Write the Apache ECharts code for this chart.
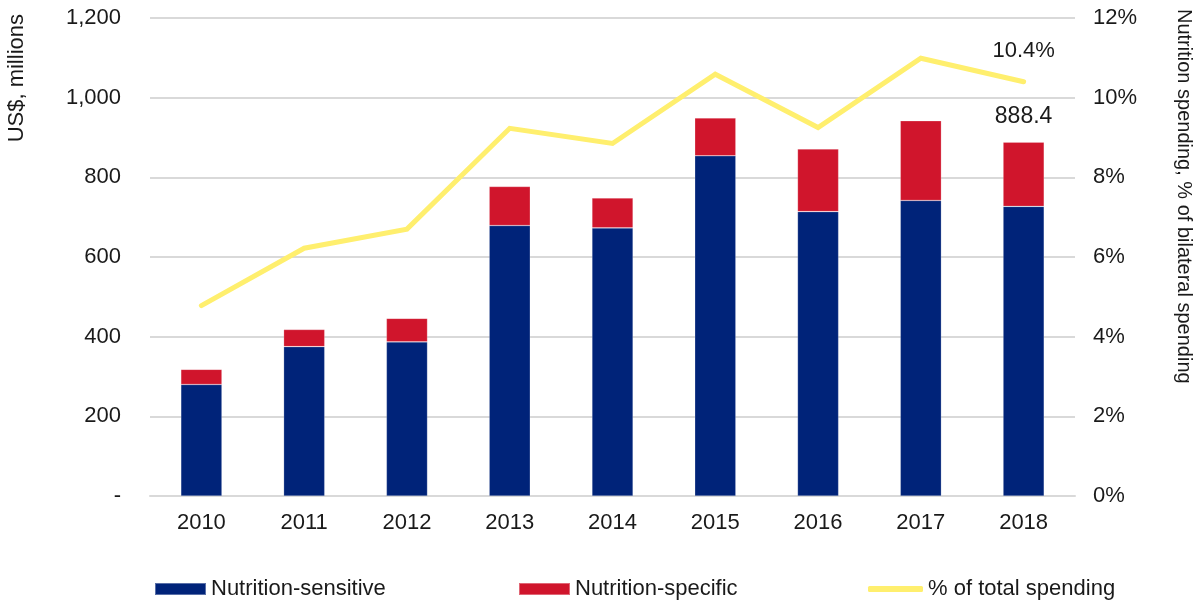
<!DOCTYPE html>
<html>
<head>
<meta charset="utf-8">
<script src="https://cdn.jsdelivr.net/npm/echarts@6/dist/echarts.min.js"></script>
<style>
  html, body { margin: 0; padding: 0; background: #ffffff; }
  #chart { width: 1199px; height: 603px; }
</style>
</head>
<body>
<div id="chart"></div>
<script>
// Nutrition spending by year (US$ millions) and share of bilateral spending (%)
const years = ['2010', '2011', '2012', '2013', '2014', '2015', '2016', '2017', '2018'];
const nutritionSensitive = [280, 375, 387, 679, 673, 854, 714, 742, 727];
const nutritionSpecific = [38, 43, 59, 98, 75, 95, 157, 200, 161.4];
const shareOfTotal = [4.78, 6.22, 6.70, 9.23, 8.85, 10.59, 9.25, 10.99, 10.4];

const leftTicks = { min: 0, max: 1200, step: 200 };
const rightTicks = { min: 0, max: 12, step: 2 };

const FONT = '"Liberation Sans", Arial, sans-serif';
const NAVY = '#002379';
const RED = '#D0152C';
const YELLOW = '#FFEF6E';
const GRID = '#D9D9D9';
const lastIdx = years.length - 1;

const chart = echarts.init(document.getElementById('chart'), null, { renderer: 'canvas' });

const legendText = { fontFamily: FONT, fontSize: 22, color: '#1a1a1a' };

chart.setOption({
  animation: false,
  backgroundColor: '#ffffff',
  textStyle: { fontFamily: FONT, color: '#1a1a1a' },
  grid: { left: 150, right: 124, top: 18, bottom: 107, containLabel: false },
  legend: [
    {
      data: ['Nutrition-sensitive'], left: 154, top: 578, padding: 0,
      itemWidth: 51, itemHeight: 12, icon: 'rect', textStyle: legendText
    },
    {
      data: ['Nutrition-specific'], left: 518, top: 578, padding: 0,
      itemWidth: 51, itemHeight: 12, icon: 'rect', textStyle: legendText
    },
    {
      data: [{ name: '% of total spending', icon: 'roundRect' }], left: 868, top: 578, padding: 0,
      itemWidth: 55, itemHeight: 6, textStyle: legendText
    }
  ],
  xAxis: {
    type: 'category',
    data: years,
    axisLine: { show: true, lineStyle: { color: GRID, width: 2 } },
    axisTick: { show: false },
    axisLabel: { fontFamily: FONT, fontSize: 22, color: '#1a1a1a', margin: 16 }
  },
  yAxis: [
    {
      type: 'value',
      min: leftTicks.min, max: leftTicks.max, interval: leftTicks.step,
      axisLine: { show: false },
      axisTick: { show: false },
      splitLine: { show: true, lineStyle: { color: GRID, width: 2 } },
      axisLabel: {
        fontFamily: FONT, fontSize: 22, color: '#1a1a1a', margin: 29,
        formatter: v => v === 0 ? '-' : v.toLocaleString('en-US')
      }
    },
    {
      type: 'value',
      min: rightTicks.min, max: rightTicks.max, interval: rightTicks.step,
      axisLine: { show: false },
      axisTick: { show: false },
      splitLine: { show: false },
      axisLabel: {
        fontFamily: FONT, fontSize: 22, color: '#1a1a1a', margin: 18,
        formatter: v => v + '%'
      }
    }
  ],
  graphic: [
    {
      type: 'text',
      left: 6, top: 14,
      rotation: Math.PI / 2,
      style: { text: 'US$, millions', font: '22px ' + FONT, fill: '#1a1a1a' }
    },
    {
      type: 'text',
      right: 5, top: 9,
      rotation: -Math.PI / 2,
      style: { text: 'Nutrition spending, % of bilateral spending', font: '20px ' + FONT, fill: '#1a1a1a' }
    }
  ],
  series: [
    {
      name: 'Nutrition-sensitive',
      type: 'bar',
      stack: 'total',
      data: nutritionSensitive,
      barCategoryGap: '60%',
      itemStyle: { color: NAVY, borderColor: 'rgba(255,255,255,0.35)', borderWidth: 0.6 },
      z: 2
    },
    {
      name: 'Nutrition-specific',
      type: 'bar',
      stack: 'total',
      data: nutritionSpecific.map((v, i) => i === lastIdx ? {
        value: v,
        label: {
          show: true, position: 'top', distance: 14,
          fontFamily: FONT, fontSize: 23, color: '#1a1a1a',
          formatter: () => (nutritionSensitive[lastIdx] + nutritionSpecific[lastIdx]).toFixed(1)
        }
      } : v),
      barCategoryGap: '60%',
      itemStyle: { color: RED, borderColor: 'rgba(255,255,255,0.35)', borderWidth: 0.6 },
      z: 2
    },
    {
      name: '% of total spending',
      type: 'line',
      yAxisIndex: 1,
      data: shareOfTotal.map((v, i) => i === lastIdx ? {
        value: v,
        label: {
          show: true, position: 'top', distance: 20,
          fontFamily: FONT, fontSize: 22, color: '#1a1a1a',
          formatter: p => p.value.toFixed(1) + '%'
        }
      } : v),
      symbol: 'circle',
      symbolSize: 0.1,
      showSymbol: true,
      lineStyle: { color: YELLOW, width: 5, cap: 'round', join: 'miter' },
      itemStyle: { color: YELLOW },
      z: 5
    }
  ]
});
</script>
</body>
</html>
